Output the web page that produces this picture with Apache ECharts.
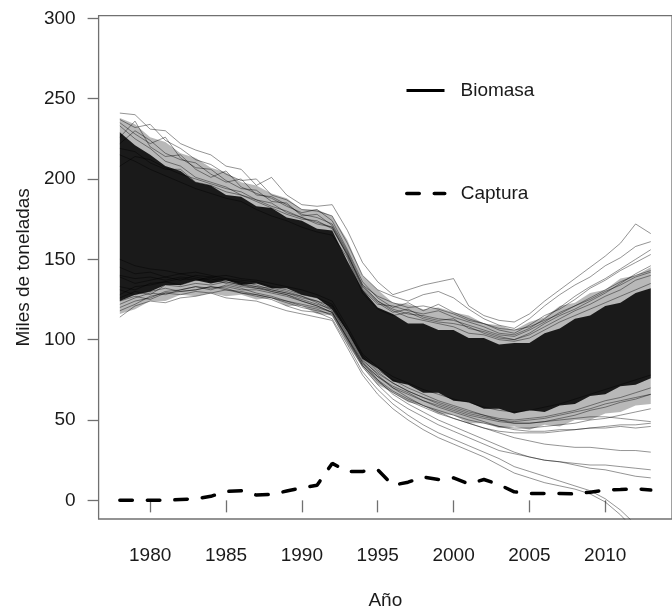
<!DOCTYPE html>
<html>
<head>
<meta charset="utf-8">
<script src="https://cdn.jsdelivr.net/npm/echarts@6/dist/echarts.min.js"></script>
<style>
  html, body { margin: 0; padding: 0; background: #fff; }
  #chart { width: 672px; height: 615px; }
</style>
</head>
<body>
<div id="chart"></div>
<script>
// Años de la serie
const years = [1978,1979,1980,1981,1982,1983,1984,1985,1986,1987,1988,1989,1990,1991,1992,1993,1994,1995,
               1996,1997,1998,1999,2000,2001,2002,2003,2004,2005,2006,2007,2008,2009,2010,2011,2012,2013];

// Captura (miles de toneladas)
const captura = [0,0,0,0,0.5,1,2.5,5.5,6,3.3,3.7,5.8,7.8,9.4,23,18,18,19,
                 9.4,11.3,14.5,13,14,10.2,13,9.8,5.3,4.3,4.3,4.3,4,5.1,6.4,6.7,7.2,6.4];

// Biomasa: franjas del conjunto de trayectorias (zona densa y zona exterior)
const outerHi = [238,234,226,223,216,213,207,204,198,196,191,188,181,181,177,162,140,131,
                 123,122,119,120,117,115,110,109,106,111,114,121,123,129,131,138,140,145];
const innerHi = [229,221,215,208,205,198,196,190,189,183,182,176,174,169,168,149,131,120,
                 116,110,110,106,106,101,101,97,98,98,104,107,113,115,121,123,129,132];
const innerLo = [124,128,130,134,134,137,135,137,134,135,132,132,128,126,119,105,88,82,
                 74,72,67,67,62,61,57,57,54,56,55,59,60,65,66,71,72,76];
const outerLo = [116,119,124,124,128,127,129,127,128,125,126,121,121,116,115,97,83,72,
                 67,61,59,54,53,48,48,45,46,44,47,46,50,50,54,55,59,60];

// Biomasa: trayectorias individuales en los bordes del conjunto
const tray1 = [241,240,231,230,222,218,215,208,206,196,201,190,184,183,184,168,148,136,
               128,131,134,136,138,121,115,112,111,116,124,131,138,145,152,160,172,166];
const tray2 = [237,232,234,224,219,212,209,203,199,200,190,187,181,180,177,160,140,131,
               127,124,128,130,126,119,113,109,107,113,121,128,134,139,146,151,158,161];
const tray3 = [226,236,220,214,215,206,201,205,195,191,188,183,179,181,174,156,136,126,
               120,123,118,122,117,113,110,106,104,109,115,119,125,132,137,143,148,153];
const tray4 = [215,211,206,202,198,194,191,188,186,181,177,174,170,167,165,151,129,119,
               115,117,113,111,110,108,104,101,100,104,110,115,119,124,129,135,141,146];
const tray5 = [233,225,219,211,208,201,198,195,190,187,185,179,176,172,170,153,133,124,
               118,114,112,110,108,104,103,100,99,101,106,111,115,119,123,127,131,135];
const tray6 = [114,121,124,123,126,127,129,126,125,124,121,118,116,114,112,95,78,66,
               57,50,44,39,35,31,27,22,17,14,11,9,7,4,-1,-9,-19,-29];
const tray7 = [131,128,130,132,130,131,133,132,129,127,125,121,118,117,113,97,80,69,
               60,53,47,42,38,34,30,26,21,18,15,12,9,6,1,-6,-15,-25];
const tray8 = [122,126,129,128,131,133,131,134,132,129,127,124,121,119,115,99,83,72,
               63,57,52,47,43,39,35,31,29,27,25,24,22,20,19,17,15,14];
const tray9 = [139,135,137,139,137,140,139,137,136,134,131,129,127,123,118,102,86,75,
               66,60,55,50,46,42,38,34,30,27,25,24,23,22,22,21,20,19];
const tray10 = [145,141,142,139,141,139,137,138,135,133,130,128,125,122,119,104,88,78,
                70,64,59,55,51,48,45,42,39,37,35,34,33,33,32,31,31,30];
const tray11 = [128,133,134,136,134,137,138,135,133,132,130,128,124,121,117,101,86,77,
                71,67,62,58,55,52,49,46,44,43,43,44,44,45,45,46,45,46];
const tray12 = [150,146,144,143,141,142,140,138,137,136,133,131,128,126,122,106,90,81,
                75,70,66,62,59,56,53,50,48,48,49,50,51,52,52,51,50,49];
const tray13 = [120,124,126,130,131,133,132,133,131,131,129,127,124,121,117,101,85,77,
                70,66,62,59,56,53,51,49,48,48,49,51,53,56,58,61,63,66];
const tray14 = [222,230,224,216,212,210,203,198,200,190,189,184,178,176,172,155,134,124,
                119,116,115,113,112,109,106,103,102,106,111,117,121,126,131,136,140,143];
const tray15 = [235,228,222,226,213,207,206,199,194,193,186,185,177,178,171,154,132,123,
                117,119,114,112,113,107,105,102,100,103,108,113,118,122,127,131,137,140];
const tray16 = [208,214,212,207,203,200,197,194,192,187,183,180,176,173,170,152,131,122,
                121,118,116,118,114,111,108,104,103,107,113,120,127,133,138,144,150,156];
const tray17 = [219,217,210,206,206,198,196,192,190,186,182,178,175,174,169,153,134,127,
                123,120,121,119,116,112,110,107,106,108,112,116,121,125,130,134,139,142];
const tray18 = [126,130,128,134,133,135,134,136,134,133,132,130,127,124,119,103,87,79,
                73,68,64,61,58,55,53,51,50,51,52,54,56,59,62,64,67,70];
const tray19 = [118,122,127,129,130,131,133,131,130,128,126,123,120,118,116,100,84,75,
                68,63,59,56,53,50,48,46,45,45,46,47,48,50,51,53,55,57];
const tray20 = [133,131,135,136,138,137,139,140,138,137,135,133,131,128,124,108,91,83,
                77,73,69,66,63,61,58,56,55,56,58,60,63,66,69,72,75,78];
const tray21 = [124,127,125,129,128,130,129,131,129,128,126,124,122,120,117,101,84,74,
                67,62,58,54,51,48,45,43,42,42,42,43,44,45,46,47,47,48];
const tray22 = [140,138,139,137,139,138,136,136,134,132,131,129,126,124,121,105,89,80,
                73,68,64,60,57,54,52,50,49,50,51,53,55,57,60,62,64,66];
const trayectorias = [tray1,tray2,tray3,tray4,tray5,tray6,tray7,tray8,tray9,tray10,tray11,
                      tray12,tray13,tray14,tray15,tray16,tray17,tray18,tray19,tray20,tray21,tray22];

// Marcas de los ejes
const xTicks = [1980,1985,1990,1995,2000,2005,2010];
const yTicks = [0,50,100,150,200,250,300];

const FONT = '"Liberation Sans", Arial, Helvetica, sans-serif';
const TXT = '#1a1a1a';
const BOX = '#707070';

const pairs = vals => years.map((y, i) => [y, vals[i]]);

// Franja rellena entre un límite inferior y uno superior, dibujada con las escalas del gráfico
function band(id, lo, hi, color) {
  return {
    name: id, type: 'custom', silent: true, z: 1, clip: true,
    data: [[years[0], lo[0]]],
    encode: { x: 0, y: 1 },
    renderItem: (params, api) => {
      const top = years.map((y, i) => api.coord([y, hi[i]]));
      const bottom = years.map((y, i) => api.coord([y, lo[i]])).reverse();
      return {
        type: 'polygon',
        shape: { points: top.concat(bottom) },
        style: { fill: color, stroke: null }
      };
    }
  };
}

const series = [
  band('exterior', outerLo, outerHi, 'rgba(0,0,0,0.28)'),
  band('interior', innerLo, innerHi, 'rgba(0,0,0,0.86)'),
  ...trayectorias.map(t => ({
    name: 'Biomasa', type: 'line', data: pairs(t), symbol: 'none', silent: true, z: 2,
    lineStyle: { color: 'rgba(0,0,0,0.42)', width: 1 }, itemStyle: { color: '#000' }
  })),
  {
    name: 'Captura', type: 'line', data: pairs(captura), symbol: 'none', silent: true, z: 3,
    lineStyle: { color: '#000', width: 3.5, type: [12.5, 15], cap: 'round' }, itemStyle: { color: '#000' }
  }
];

const yearLabel = v => String(v);

const chart = echarts.init(document.getElementById('chart'), null, { renderer: 'canvas' });
chart.setOption({
  animation: false,
  backgroundColor: '#fff',
  textStyle: { fontFamily: FONT },
  grid: {
    left: 98.6, top: 15.7, right: -8.3, bottom: 88.3,
    show: true, borderColor: BOX, borderWidth: 1.3, backgroundColor: 'transparent'
  },
  xAxis: {
    type: 'value', min: 1976.6, max: 2014.4,
    name: 'Año', nameLocation: 'middle', nameGap: 72,
    nameTextStyle: { fontFamily: FONT, fontSize: 19, color: TXT },
    axisLine: { show: false },
    splitLine: { show: false },
    axisTick: { show: true, inside: false, length: 12, customValues: xTicks,
                lineStyle: { color: BOX, width: 1.3 } },
    axisLabel: { customValues: xTicks, margin: 27, fontSize: 19, color: TXT, fontFamily: FONT,
                 formatter: yearLabel, showMinLabel: true, showMaxLabel: true }
  },
  yAxis: {
    type: 'value', min: -11.6, max: 301.6,
    name: 'Miles de toneladas', nameLocation: 'middle', nameGap: 62,
    nameTextStyle: { fontFamily: FONT, fontSize: 19, color: TXT },
    axisLine: { show: false },
    splitLine: { show: false },
    axisTick: { show: true, inside: false, length: 11, customValues: yTicks,
                lineStyle: { color: BOX, width: 1.3 } },
    axisLabel: { customValues: yTicks, margin: 23, fontSize: 19, color: TXT, fontFamily: FONT,
                 showMinLabel: true, showMaxLabel: true }
  },
  legend: [
    {
      data: ['Biomasa'], left: 405, top: 81, padding: 0, orient: 'vertical',
      itemWidth: 38, itemHeight: 14, selectedMode: false,
      itemStyle: { opacity: 0 },
      lineStyle: { color: '#000', width: 3, opacity: 1, type: 'solid' },
      textStyle: { fontFamily: FONT, fontSize: 19, color: TXT, padding: [0, 0, 0, 11] }
    },
    {
      data: ['Captura'], left: 405, top: 184, padding: 0, orient: 'vertical',
      itemWidth: 38, itemHeight: 14, selectedMode: false,
      itemStyle: { opacity: 0 },
      lineStyle: { color: '#000', width: 3.5, opacity: 1, type: [12.5, 15], cap: 'round' },
      textStyle: { fontFamily: FONT, fontSize: 19, color: TXT, padding: [0, 0, 0, 11] }
    }
  ],
  series: series
});
</script>
</body>
</html>
